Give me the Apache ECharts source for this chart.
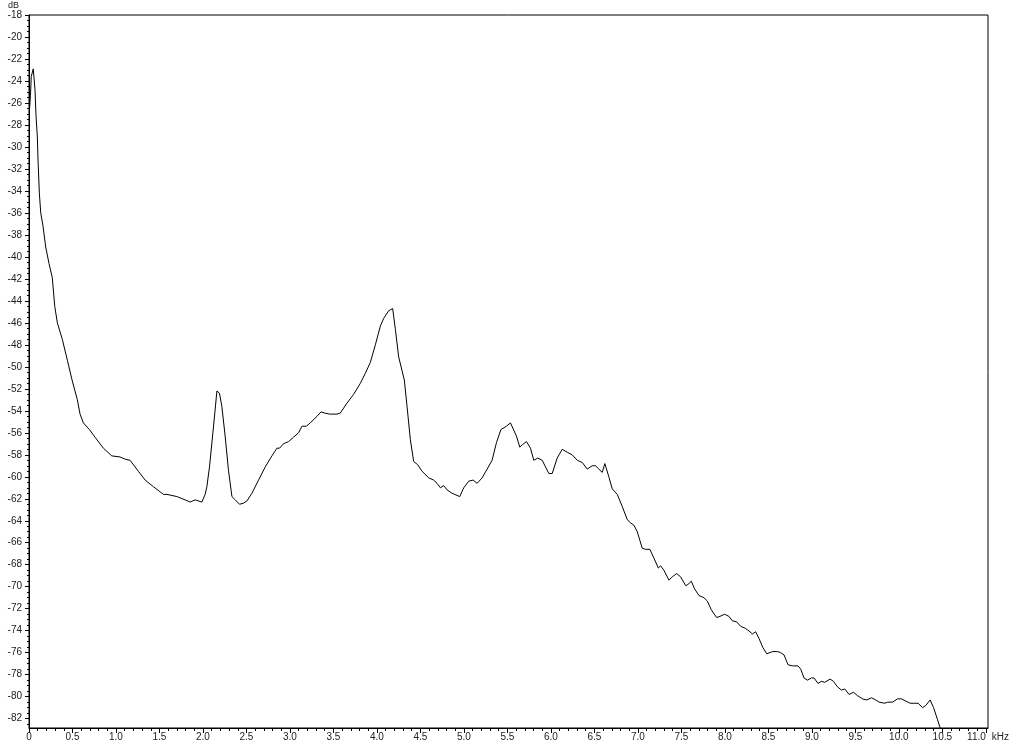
<!DOCTYPE html>
<html><head><meta charset="utf-8">
<script src="https://cdn.jsdelivr.net/npm/echarts@6/dist/echarts.min.js"></script>
<style>html,body{margin:0;padding:0;background:#fff}#c{width:1024px;height:745px}</style>
</head><body><div id="c"></div>
<script>
const freqKHz = [0.003,0.017,0.026,0.038,0.049,0.069,0.081,0.096,0.104,0.119,
0.135,0.161,0.192,0.230,0.268,0.296,0.326,0.383,0.441,0.495,
0.556,0.587,0.625,0.694,0.759,0.855,0.952,1.047,1.105,1.162,
1.258,1.335,1.430,1.545,1.585,1.700,1.795,1.853,1.910,1.987,
2.025,2.045,2.075,2.114,2.140,2.160,2.190,2.217,2.255,2.293,
2.333,2.371,2.420,2.466,2.505,2.563,2.639,2.716,2.793,2.850,
2.880,2.926,2.984,3.041,3.099,3.138,3.188,3.234,3.311,3.357,
3.398,3.456,3.541,3.579,3.656,3.732,3.809,3.866,3.924,3.982,
4.039,4.077,4.135,4.181,4.212,4.250,4.315,4.346,4.384,4.422,
4.468,4.519,4.595,4.652,4.691,4.730,4.767,4.807,4.864,4.952,
4.998,5.055,5.106,5.152,5.209,5.267,5.324,5.374,5.426,5.489,
5.535,5.555,5.604,5.642,5.670,5.719,5.765,5.803,5.849,5.900,
5.938,5.976,6.015,6.072,6.130,6.148,6.194,6.245,6.303,6.360,
6.418,6.475,6.513,6.551,6.590,6.620,6.666,6.705,6.763,6.820,
6.878,6.916,6.954,6.993,7.050,7.088,7.138,7.184,7.235,7.261,
7.299,7.357,7.396,7.445,7.491,7.549,7.575,7.614,7.652,7.702,
7.759,7.798,7.844,7.905,7.943,7.997,8.047,8.086,8.136,8.182,
8.239,8.289,8.316,8.354,8.392,8.435,8.481,8.550,8.607,8.642,
8.680,8.726,8.777,8.841,8.872,8.910,8.949,8.995,9.025,9.071,
9.110,9.148,9.168,9.209,9.248,9.294,9.340,9.378,9.428,9.478,
9.524,9.582,9.631,9.686,9.735,9.773,9.839,9.870,9.927,9.985,
10.031,10.080,10.130,10.176,10.222,10.273,10.310,10.360,10.399,10.445,
10.494];
const levelDb = [-26.9,-25.3,-23.6,-23.5,-22.9,-24.8,-27.2,-29.1,-31.2,-34.2,
-36.0,-37.2,-39.1,-40.6,-41.9,-44.5,-46.0,-47.5,-49.4,-51.2,
-53.0,-54.3,-55.1,-55.7,-56.4,-57.4,-58.1,-58.2,-58.4,-58.5,
-59.5,-60.3,-60.9,-61.6,-61.6,-61.8,-62.1,-62.3,-62.1,-62.3,
-61.6,-60.9,-59.1,-56.0,-53.9,-52.2,-52.4,-53.6,-56.3,-59.4,
-61.8,-62.1,-62.5,-62.4,-62.2,-61.5,-60.3,-59.1,-58.1,-57.4,
-57.4,-57.0,-56.8,-56.4,-56.0,-55.4,-55.4,-55.1,-54.5,-54.1,
-54.2,-54.3,-54.3,-54.2,-53.3,-52.5,-51.5,-50.6,-49.6,-48.0,
-46.3,-45.6,-44.9,-44.7,-46.6,-49.1,-51.2,-53.6,-56.6,-58.6,
-58.9,-59.5,-60.1,-60.3,-60.6,-61.0,-60.8,-61.2,-61.5,-61.8,
-61.0,-60.4,-60.3,-60.6,-60.1,-59.3,-58.5,-56.9,-55.7,-55.4,
-55.1,-55.2,-56.3,-57.3,-57.1,-56.8,-57.4,-58.5,-58.3,-58.5,
-59.1,-59.7,-59.7,-58.3,-57.5,-57.5,-57.8,-58.0,-58.5,-58.7,
-59.3,-59.0,-59.0,-59.3,-59.6,-58.8,-60.0,-61.1,-61.6,-62.7,
-63.9,-64.2,-64.4,-65.0,-66.5,-66.6,-66.6,-67.4,-68.3,-68.1,
-68.5,-69.4,-69.1,-68.8,-69.1,-69.9,-69.8,-69.5,-70.2,-70.8,
-71.0,-71.3,-72.1,-72.8,-72.7,-72.5,-72.7,-73.1,-73.2,-73.6,
-73.8,-74.1,-74.3,-74.1,-74.7,-75.5,-76.1,-75.9,-75.9,-76.0,
-76.2,-77.1,-77.2,-77.2,-77.5,-78.3,-78.5,-78.3,-78.3,-78.8,
-78.6,-78.7,-78.8,-78.4,-78.6,-79.1,-79.4,-79.3,-79.8,-79.6,
-79.9,-80.2,-80.3,-80.1,-80.3,-80.5,-80.6,-80.5,-80.5,-80.2,
-80.2,-80.4,-80.6,-80.6,-80.6,-81.0,-80.8,-80.3,-81.0,-82.1,
-83.3];

const xMajorTicks = [0,0.5,1,1.5,2,2.5,3,3.5,4,4.5,5,5.5,6,6.5,7,7.5,8,8.5,9,9.5,10,10.5,11];
const yMajorTicks = [-82,-80,-78,-76,-74,-72,-70,-68,-66,-64,-62,-60,-58,-56,-54,-52,-50,-48,-46,-44,-42,-40,-38,-36,-34,-32,-30,-28,-26,-24,-22,-20,-18];
const X_MIN = 0, X_MAX = 11.025, Y_MIN = -82.85, Y_MAX = -18;

const xMinorTicks = [];
for (let i = 0; i <= 110; i++) xMinorTicks.push(+(i * 0.1).toFixed(1));
const yMinorTicks = [];
for (let v = -82.5; v <= -18; v += 0.5) yMinorTicks.push(v);

const FONT = "'Liberation Sans Narrow','Liberation Sans',Arial,sans-serif";
const TXT = '#222';

const chart = echarts.init(document.getElementById('c'), null, {renderer: 'canvas'});
chart.setOption({
  animation: false,
  backgroundColor: '#fff',
  grid: {left: 29, top: 15, right: 36, bottom: 17, show: true, borderColor: '#000', borderWidth: 1, containLabel: false},
  xAxis: [{
    type: 'value', min: X_MIN, max: X_MAX, position: 'bottom',
    axisLine: {show: true, lineStyle: {color: '#000', width: 1}},
    axisTick: {show: true, customValues: xMajorTicks, length: 5, lineStyle: {color: '#000'}},
    axisLabel: {show: true, customValues: xMajorTicks, margin: 4, fontSize: 10, fontFamily: FONT, color: TXT,
      alignMaxLabel: 'right',
      formatter: v => v === 0 ? '0' : v.toFixed(1)},
    splitLine: {show: false},
    name: 'kHz', nameLocation: 'end', nameGap: 3,
    nameTextStyle: {fontSize: 10, fontFamily: FONT, color: TXT, align: 'left', verticalAlign: 'top', padding: [4, 0, 0, 0]}
  }, {
    type: 'value', min: X_MIN, max: X_MAX, position: 'bottom', offset: 0,
    axisLine: {show: false},
    axisTick: {show: true, customValues: xMinorTicks, length: 3, lineStyle: {color: '#000'}},
    axisLabel: {show: false},
    splitLine: {show: false}
  }],
  yAxis: [{
    type: 'value', min: Y_MIN, max: Y_MAX, position: 'left',
    axisLine: {show: true, lineStyle: {color: '#000', width: 1}},
    axisTick: {show: true, customValues: yMajorTicks, length: 4, lineStyle: {color: '#000'}},
    axisLabel: {show: true, customValues: yMajorTicks, margin: 7, fontSize: 10, fontFamily: FONT, color: TXT,
      formatter: v => String(v)},
    splitLine: {show: false},
    name: 'dB', nameLocation: 'end', nameGap: 3,
    nameTextStyle: {fontSize: 9, fontFamily: FONT, color: TXT, align: 'right', verticalAlign: 'bottom', padding: [0, 10, 0, 0]}
  }, {
    type: 'value', min: Y_MIN, max: Y_MAX, position: 'left', offset: 0,
    axisLine: {show: false},
    axisTick: {show: true, customValues: yMinorTicks, length: 2, lineStyle: {color: '#000'}},
    axisLabel: {show: false},
    splitLine: {show: false}
  }],
  series: [{
    type: 'line', xAxisIndex: 0, yAxisIndex: 0,
    data: freqKHz.map((f, i) => [f, levelDb[i]]),
    showSymbol: false, symbol: 'none', smooth: false, clip: true,
    lineStyle: {color: '#000', width: 1}
  }]
});
</script>
</body></html>
